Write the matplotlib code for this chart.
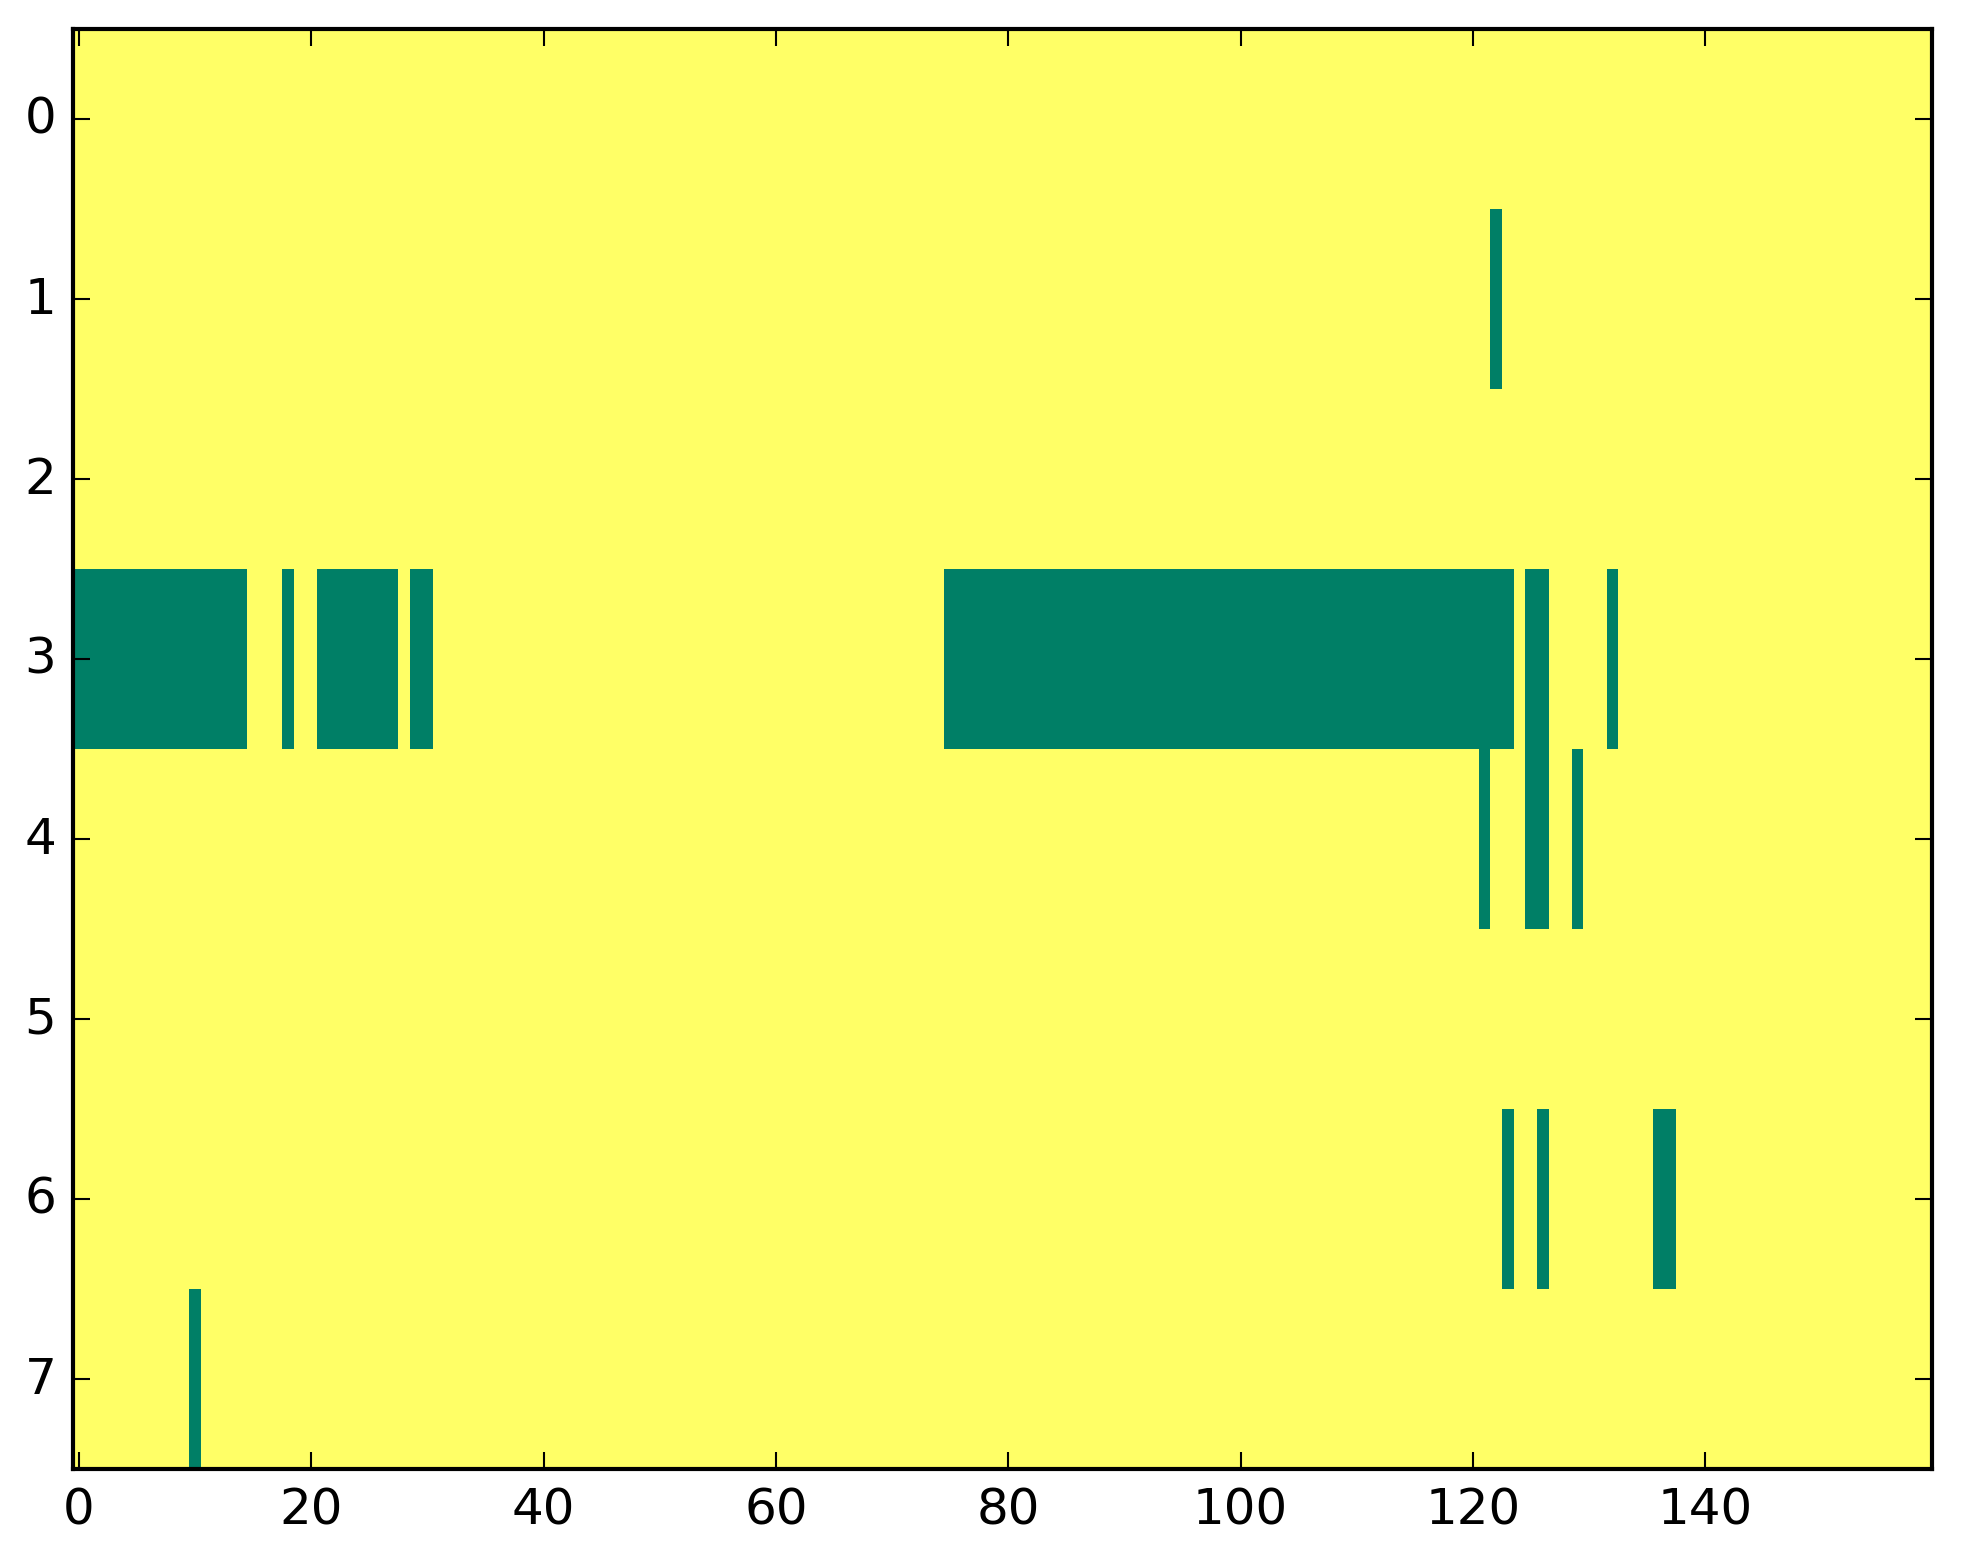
import numpy as np
import matplotlib
matplotlib.use("Agg")
import matplotlib.pyplot as plt

plt.style.use('classic')

n_rows = 8
n_cols = 160

# green cells (value 0), everything else is 1 (yellow)
row_1 = [122]
row_3 = list(range(0, 15)) + [18] + list(range(21, 28)) + [29, 30] \
    + list(range(75, 124)) + [125, 126, 132]
row_4 = [121, 125, 126, 129]
row_6 = [123, 126, 136, 137]
row_7 = [10]
green_cells = {1: row_1, 3: row_3, 4: row_4, 6: row_6, 7: row_7}

grid = np.ones((n_rows, n_cols))
for r, cols in green_cells.items():
    grid[r, cols] = 0

fig = plt.figure(figsize=(1963 / 300, 1564 / 300), dpi=300, facecolor='white')
ax = fig.add_axes([73 / 1963, 1 - 1470 / 1564, (1932 - 73) / 1963, (1470 - 30) / 1564])
ax.imshow(grid, cmap='summer', interpolation='nearest', aspect='auto', vmin=0, vmax=1)
ax.set_xticks(np.arange(0, 160, 20))
ax.set_yticks(np.arange(0, 8, 1))
ax.set_xlim(-0.5, 159.5)
ax.set_ylim(7.5, -0.5)

fig.savefig('out.png', dpi=300, facecolor='white')
